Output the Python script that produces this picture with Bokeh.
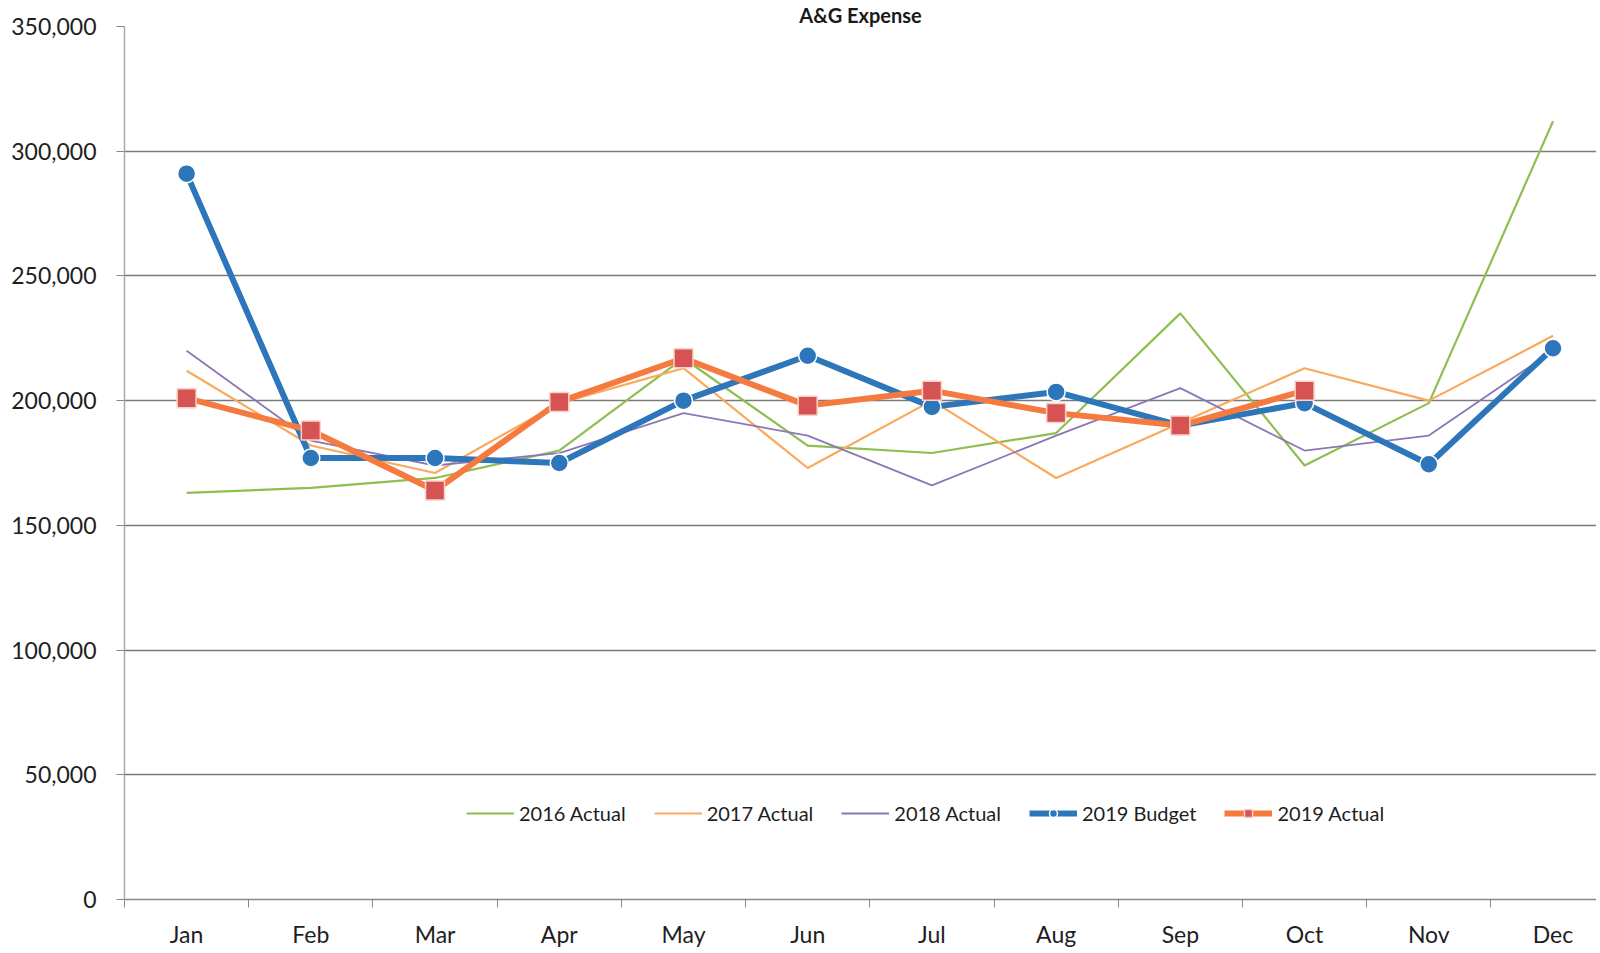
from bokeh.plotting import figure
from bokeh.models import (Range1d, FixedTicker, NumeralTickFormatter, Legend, LegendItem)
from bokeh.embed import file_html
from bokeh.resources import INLINE

months = ["Jan", "Feb", "Mar", "Apr", "May", "Jun", "Jul", "Aug", "Sep", "Oct", "Nov", "Dec"]
actual_2016 = [163000, 165000, 169000, 180000, 217000, 182000, 179000, 187000, 235000, 174000, 199000, 312000]
actual_2017 = [212000, 182000, 171000, 199000, 213000, 173000, 200000, 169000, 191000, 213000, 200000, 226000]
actual_2018 = [220000, 184000, 174000, 179000, 195000, 186000, 166000, 186000, 205000, 180000, 186000, 220000]
budget_2019 = [291000, 177000, 177000, 175000, 200000, 218000, 197500, 203500, 190000, 199000, 174500, 221000]
actual_2019 = [201000, 188000, 164000, 199500, 217000, 198000, 204000, 195000, 190000, 204000]
y_ticks = [0, 50000, 100000, 150000, 200000, 250000, 300000, 350000]
title_text = "A&G Expense"

FONT = "Lato"
x_all = list(range(len(months)))
x_act = list(range(len(actual_2019)))

p = figure(width=1596, height=950, output_backend="svg", toolbar_location=None,
           x_range=Range1d(-0.5, 11.35), y_range=Range1d(0, 350000),
           min_border_left=124, min_border_right=0, min_border_top=23, min_border_bottom=50)
p.outline_line_color = None
p.background_fill_color = "white"
p.border_fill_color = "white"

p.title.text = title_text
p.title.align = "center"
p.title.text_font = FONT
p.title.text_font_style = "bold"
p.title.text_font_size = "20px"
p.title.text_color = "#1a1a1a"
p.title.standoff = 0
p.title.offset = 0

# axes
p.xaxis.ticker = FixedTicker(ticks=x_all, minor_ticks=[i - 0.5 for i in range(13)])
p.xaxis.major_label_overrides = {i: m for i, m in enumerate(months)}
p.xaxis.major_tick_line_color = None
p.xaxis.minor_tick_out = 8
p.xaxis.minor_tick_in = 0
p.xaxis.minor_tick_line_color = "#888888"
p.xaxis.axis_line_color = "#888888"
p.xaxis.axis_line_width = 1.5
p.xaxis.major_label_text_font = FONT
p.xaxis.major_label_text_font_size = "23px"
p.xaxis.major_label_text_color = "#1e1e1e"
p.xaxis.major_label_standoff = 12

p.yaxis.ticker = FixedTicker(ticks=y_ticks)
p.yaxis.formatter = NumeralTickFormatter(format="0,0")
p.yaxis.minor_tick_line_color = None
p.yaxis.major_tick_out = 8
p.yaxis.major_tick_in = 0
p.yaxis.major_tick_line_color = "#888888"
p.yaxis.axis_line_color = "#aaaaaa"
p.yaxis.axis_line_width = 1.5
p.yaxis.major_label_text_font = FONT
p.yaxis.major_label_text_font_size = "23px"
p.yaxis.major_label_text_color = "#1e1e1e"
p.yaxis.major_label_standoff = 20

p.xgrid.grid_line_color = None
p.ygrid.ticker = FixedTicker(ticks=y_ticks)
p.ygrid.grid_line_color = "#7a7a7a"
p.ygrid.grid_line_width = 1.5

# series
r16 = p.line(x_all, actual_2016, line_color="#8DBE4F", line_width=2.2)
r17 = p.line(x_all, actual_2017, line_color="#F9A95C", line_width=2.2)
r18 = p.line(x_all, actual_2018, line_color="#8B77B8", line_width=1.8)
rb_l = p.line(x_all, budget_2019, line_color="#2E76BA", line_width=6)
rb_m = p.scatter(x_all, budget_2019, marker="circle", size=18, fill_color="#2E76BA",
                 line_color="white", line_width=1.5)
ra_l = p.line(x_act, actual_2019, line_color="#F47A3F", line_width=6)
ra_m = p.scatter(x_act, actual_2019, marker="square", size=19, fill_color="#D65353",
                 line_color="#FBD3C6", line_width=1.5)

legend = Legend(items=[
    LegendItem(label="2016 Actual", renderers=[r16]),
    LegendItem(label="2017 Actual", renderers=[r17]),
    LegendItem(label="2018 Actual", renderers=[r18]),
    LegendItem(label="2019 Budget", renderers=[rb_l, rb_m]),
    LegendItem(label="2019 Actual", renderers=[ra_l, ra_m]),
], orientation="horizontal", location=(342, 74))
legend.background_fill_alpha = 0
legend.border_line_color = None
legend.label_text_font = FONT
legend.label_text_font_size = "20px"
legend.label_text_color = "#1e1e1e"
legend.glyph_width = 48
legend.glyph_height = 20
legend.label_standoff = 5
legend.spacing = 28
legend.padding = 0
legend.margin = 0
p.add_layout(legend)

open("out.html", "w").write(file_html(p, INLINE))
